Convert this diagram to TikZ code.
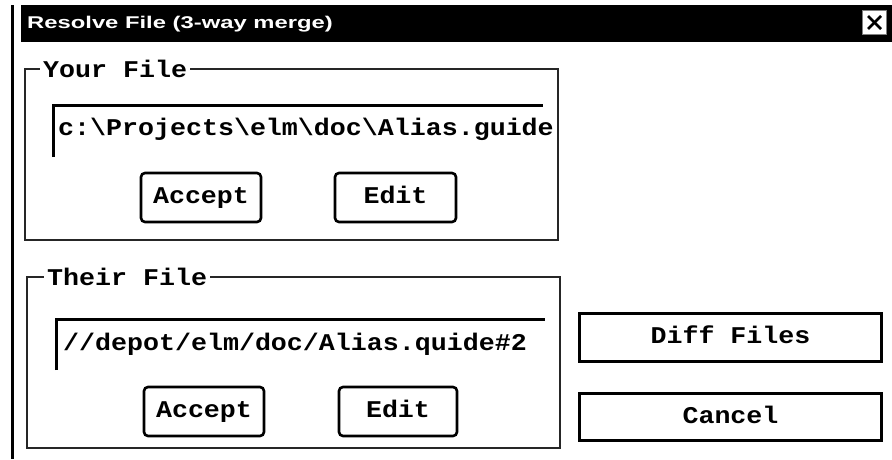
\documentclass[tikz,border=0pt]{standalone}
\usepackage{fontspec}
\newfontfamily\uimono[FakeStretch=1.11]{Liberation Mono}
\newfontfamily\uititle[FakeStretch=1.4]{Liberation Sans}
\begin{document}
\begin{tikzpicture}[x=1pt,y=-1pt,
  monofont/.style={font=\uimono\bfseries\fontsize{24}{24}\selectfont},
  grp/.style={draw=black!85, line width=1.3pt},
  grplabel/.style={monofont, fill=white, inner xsep=3pt, inner ysep=1pt,
    text height=16pt, text depth=0pt, anchor=west},
  field/.style={draw=black, line width=3pt},
  fieldtext/.style={monofont, inner sep=0pt, anchor=base west},
  btn/.style={draw=black, line width=2.6pt, rounded corners=4pt, monofont,
    text height=16pt, text depth=4pt, minimum height=49pt, inner sep=0pt},
  bigbtn/.style={draw=black, line width=3pt, monofont,
    text height=16pt, text depth=4pt, inner sep=0pt}
]
\useasboundingbox (0,0) rectangle (892,459);
\fill[white] (0,0) rectangle (892,459);

% window edge
\draw[line width=3.5pt] (12.5,5) -- (12.5,459);

% title bar
\fill[black] (21,5) rectangle (892,42);
\node[font=\uititle\bfseries\fontsize{17}{17}\selectfont, text=white,
  inner sep=0pt, anchor=base west] (title) at (27,28) {Resolve File (3-way merge)};
\node[draw=black!50, line width=0.8pt, fill=white, minimum width=24pt,
  minimum height=24pt, inner sep=0pt] (close) at (874.5,22.5) {};
\draw[line width=2.6pt] (868,16) -- (881,29);
\draw[line width=2.6pt] (881,16) -- (868,29);

% Your File group
\draw[grp] (25,69) rectangle (558,240);
\node[grplabel] (yourlbl) at (40,69) {Your File};
\draw[field] (53,157) -- (53,105) -- (543,105);
\node[fieldtext] (yourpath) at (58,135)
  {c:\textbackslash Projects\textbackslash elm\textbackslash doc\textbackslash Alias.guide};
\node[btn, minimum width=120pt] (yaccept) at (201,197.5) {Accept};
\node[btn, minimum width=121pt] (yedit) at (395.5,197.5) {Edit};

% Their File group
\draw[grp] (27,277) rectangle (560,448);
\node[grplabel] (theirlbl) at (44,277) {Their File};
\draw[field] (56,370) -- (56,319) -- (545,319);
\node[fieldtext] (theirpath) at (63,350) {//depot/elm/doc/Alias.quide\#2};
\node[btn, minimum width=120pt] (taccept) at (204,411.5) {Accept};
\node[btn, minimum width=118pt] (tedit) at (398,411.5) {Edit};

% right buttons
\node[bigbtn, minimum width=302pt, minimum height=48pt] (diff) at (730.5,337.5) {Diff Files};
\node[bigbtn, minimum width=302pt, minimum height=47pt] (cancel) at (730.5,417) {Cancel};
\end{tikzpicture}
\end{document}
